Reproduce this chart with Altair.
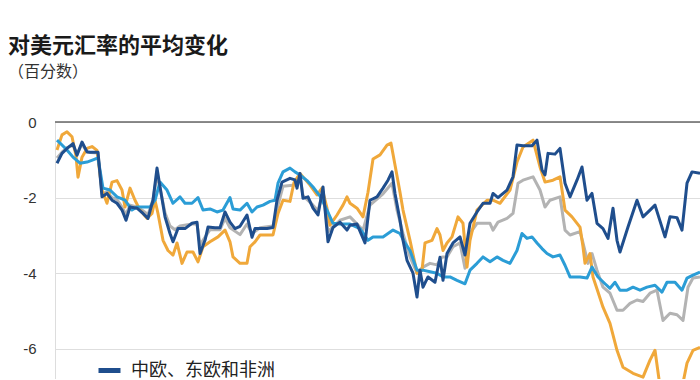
import altair as alt
import pandas as pd

title_text = "对美元汇率的平均变化"
subtitle_text = "（百分数）"
series_names = ["中欧、东欧和非洲", "拉丁美洲", "所有新兴市场", "亚洲"]
series_colors = ["#1f4e8d", "#f0a83a", "#b3b3b3", "#2b9dd6"]
y_ticks = [0, -2, -4, -6]

# day index (t) and percent change values
cee_t = [2, 7, 12, 18, 22, 27, 32, 35, 43, 47, 52, 57, 62, 67, 71, 75, 82, 88, 93, 98,
         102, 105, 110, 115, 118, 123, 130, 137, 142, 145, 150, 153, 160, 165, 170, 175,
         180, 185, 192, 197, 200, 212, 218, 222, 227, 235, 240, 242, 245, 248, 253, 258,
         263, 268, 273, 278, 285, 292, 295, 302, 310, 315, 322, 328, 333, 337, 340, 345,
         348, 352, 358, 362, 365, 368, 373, 380, 385, 388, 392, 398, 405, 410, 415, 422,
         428, 435, 438, 443, 452, 458, 462, 468, 477, 482, 487, 490, 493, 500, 505, 510,
         515, 522, 527, 532, 537, 542, 548, 553, 558, 562, 565, 573, 582, 588, 595, 600,
         610, 615, 622, 627, 632, 637, 645]
cee_v = [-1.09, -0.83, -0.70, -0.57, -0.88, -0.53, -0.79, -0.80, -0.80, -1.98, -1.89, -2.07,
         -2.15, -2.33, -2.60, -2.25, -2.28, -2.42, -2.55, -2.07, -1.22, -1.71, -2.51, -2.95,
         -3.17, -2.82, -2.82, -2.68, -2.65, -3.48, -3.13, -2.78, -2.80, -2.80, -2.38, -2.65,
         -2.82, -2.76, -2.46, -3.05, -2.82, -2.82, -2.79, -2.07, -1.59, -1.49, -1.53, -1.75,
         -1.36, -2.02, -1.98, -2.28, -2.46, -1.72, -3.17, -2.79, -2.65, -2.86, -2.73, -2.70,
         -3.20, -2.07, -1.98, -1.75, -1.54, -1.32, -1.89, -2.60, -3.13, -3.66, -4.00, -4.63,
         -3.92, -4.37, -4.10, -4.24, -3.58, -4.19, -3.48, -3.20, -3.04, -3.52, -2.68, -2.38,
         -2.15, -2.15, -1.89, -2.00, -1.80, -1.45, -0.61, -0.63, -0.63, -0.48, -1.27, -1.40,
         -0.83, -0.85, -0.70, -1.62, -1.98, -1.54, -1.19, -2.07, -1.89, -2.68, -2.82, -3.08,
         -2.28, -3.13, -3.44, -2.78, -2.07, -2.51, -2.33, -2.20, -3.04, -2.51, -2.53, -2.86,
         -1.62, -1.32, -1.36]

lat_t = [2, 7, 12, 17, 21, 23, 27, 32, 37, 42, 47, 52, 57, 62, 67, 70, 75, 80, 85, 92,
         97, 100, 103, 108, 113, 118, 122, 127, 132, 138, 143, 148, 155, 163, 170, 175,
         178, 185, 192, 195, 200, 205, 218, 223, 228, 235, 239, 245, 255, 262, 267, 272,
         275, 282, 288, 292, 295, 302, 308, 313, 318, 325, 332, 336, 340, 345, 348, 355,
         362, 367, 370, 377, 382, 385, 388, 392, 397, 403, 408, 412, 415, 422, 432, 438,
         445, 455, 462, 468, 478, 485, 490, 498, 505, 510, 517, 525, 528, 530, 535, 538,
         543, 548, 555, 562, 568, 578, 588, 595, 600, 605, 613, 625, 632, 638, 645]
lat_v = [-0.74, -0.34, -0.26, -0.39, -0.90, -1.46, -0.93, -0.70, -0.65, -0.75, -1.80, -2.15,
         -1.59, -1.55, -1.80, -2.25, -1.75, -2.07, -2.33, -2.55, -2.42, -2.07, -2.42, -3.13,
         -3.40, -3.52, -3.20, -3.74, -3.44, -3.44, -3.70, -3.30, -3.17, -3.04, -2.86, -3.17,
         -3.57, -3.74, -3.74, -3.30, -3.17, -2.99, -2.99, -2.42, -2.07, -2.10, -1.60, -1.36,
         -1.67, -1.93, -1.75, -2.28, -2.73, -2.46, -2.20, -1.98, -2.15, -2.28, -2.51, -1.86,
         -0.98, -0.87, -0.61, -0.56, -1.14, -1.86, -2.33, -3.13, -4.00, -3.92, -3.20, -3.13,
         -2.82, -2.99, -3.40, -3.20, -3.04, -2.51, -2.68, -3.84, -3.13, -2.33, -2.07, -2.07,
         -2.15, -1.80, -1.06, -0.66, -0.48, -1.19, -1.59, -1.54, -1.45, -2.33, -2.51, -2.78,
         -3.30, -3.74, -3.48, -4.10, -4.50, -4.90, -5.33, -6.04, -6.49, -6.65, -6.75, -6.30,
         -6.04, -7.00, -7.30, -7.30, -6.38, -6.04, -5.96]

em_t = [2, 7, 12, 18, 22, 27, 32, 43, 47, 52, 57, 62, 67, 71, 75, 82, 88, 93, 98, 102,
        105, 110, 115, 120, 125, 137, 142, 145, 150, 155, 165, 170, 175, 185, 192, 197,
        205, 218, 223, 228, 240, 245, 248, 258, 263, 268, 273, 285, 295, 308, 315, 328,
        337, 342, 348, 355, 362, 368, 375, 382, 387, 392, 398, 405, 410, 415, 422, 435,
        438, 443, 452, 458, 463, 468, 478, 485, 490, 495, 505, 510, 515, 525, 528, 533,
        537, 542, 548, 555, 562, 568, 575, 582, 588, 595, 602, 608, 615, 622, 628, 633,
        638, 645]
em_v = [-0.95, -0.80, -0.68, -0.62, -0.85, -0.58, -0.80, -0.82, -1.90, -1.85, -2.00, -2.05,
        -2.25, -2.45, -2.20, -2.25, -2.35, -2.45, -2.05, -1.40, -1.75, -2.40, -2.75, -2.85,
        -2.75, -2.70, -2.70, -3.25, -3.05, -2.85, -2.85, -2.55, -2.80, -2.98, -2.70, -2.95,
        -2.80, -2.75, -2.20, -1.70, -1.67, -1.45, -1.95, -2.20, -2.35, -1.85, -2.90, -2.60,
        -2.51, -2.86, -2.20, -1.90, -1.62, -2.33, -2.95, -3.57, -4.00, -3.84, -3.74, -3.78,
        -3.57, -3.57, -3.30, -3.20, -3.87, -2.95, -2.68, -2.68, -2.86, -2.65, -2.55, -2.42,
        -1.62, -1.54, -1.45, -1.80, -2.25, -2.07, -1.98, -2.86, -2.99, -2.90, -3.20, -3.74,
        -3.48, -3.92, -4.37, -4.53, -4.98, -4.98, -4.80, -4.71, -4.75, -4.53, -4.45, -5.25,
        -5.06, -5.10, -5.25, -4.37, -4.13, -4.10]

asia_t = [2, 7, 12, 18, 25, 32, 38, 43, 48, 55, 62, 70, 77, 82, 95, 100, 105, 112, 118, 125,
          130, 137, 143, 148, 155, 162, 168, 175, 178, 185, 192, 197, 202, 208, 215, 220,
          223, 228, 235, 240, 245, 252, 258, 265, 272, 278, 285, 295, 305, 313, 318, 328,
          338, 345, 350, 355, 362, 368, 375, 382, 388, 395, 402, 410, 415, 422, 428, 435,
          442, 448, 455, 462, 467, 472, 477, 482, 487, 492, 498, 505, 510, 515, 525, 532,
          537, 543, 550, 555, 560, 565, 572, 578, 585, 592, 600, 607, 612, 620, 627, 632,
          638, 645]
asia_v = [-0.48, -0.61, -0.74, -0.93, -1.09, -1.06, -1.00, -0.95, -1.75, -1.80, -1.98, -2.07,
          -2.33, -2.25, -2.25, -2.07, -1.59, -1.80, -2.15, -1.98, -2.15, -2.15, -2.00, -2.33,
          -2.30, -2.38, -2.33, -2.00, -2.30, -2.33, -2.15, -2.38, -2.25, -2.20, -2.10, -2.07,
          -1.62, -1.32, -1.22, -1.32, -1.40, -1.55, -1.72, -1.96, -2.33, -2.68, -2.70, -2.70,
          -2.82, -3.13, -3.04, -3.04, -2.86, -2.95, -3.20, -3.40, -3.92, -3.92, -3.96, -4.00,
          -4.10, -4.10, -4.19, -4.28, -3.92, -3.74, -3.57, -3.70, -3.57, -3.66, -3.74, -3.40,
          -2.95, -3.08, -3.04, -3.20, -3.35, -3.48, -3.57, -3.52, -3.79, -4.10, -4.10, -4.13,
          -3.84, -4.10, -4.28, -4.40, -4.24, -4.45, -4.45, -4.37, -4.45, -4.37, -4.32, -4.50,
          -4.24, -4.24, -4.45, -4.13, -4.05, -3.97]

FONT = "Noto Sans CJK SC"

def frame(name, t, v):
    return pd.DataFrame({"t": t, "v": v, "series": name})

x_enc = alt.X("t:Q", axis=None, scale=alt.Scale(domain=[0, 645], nice=False, zero=False))
y_enc = alt.Y("v:Q", title=None,
              scale=alt.Scale(domain=[-6.8, 0], nice=False),
              axis=alt.Axis(values=y_ticks, grid=True, gridColor="#dedede", gridWidth=1,
                            domain=False, ticks=False, labelPadding=19, labelFontSize=15,
                            labelColor="#333333", labelFont="Liberation Sans",
                            labelExpr="'' + datum.value"))
color_enc = alt.Color("series:N",
                      scale=alt.Scale(domain=series_names, range=series_colors),
                      legend=alt.Legend(title=None, orient="none", legendX=41, legendY=235,
                                        values=[series_names[0]],
                                        direction="vertical", symbolType="stroke",
                                        symbolStrokeWidth=5, symbolSize=484,
                                        labelFontSize=18, labelFont=FONT, labelColor="#222222",
                                        labelOffset=8, padding=0, rowPadding=6))

def line_layer(df):
    return alt.Chart(df).mark_line(strokeWidth=3, clip=True, strokeJoin="round").encode(
        x=x_enc, y=y_enc, color=color_enc)

zero = alt.Chart(pd.DataFrame({"v": [0]})).mark_rule(color="#666666", strokeWidth=1.6).encode(
    y=alt.Y("v:Q", scale=alt.Scale(domain=[-6.8, 0], nice=False)))

chart = alt.layer(
    zero,
    line_layer(frame(series_names[2], em_t, em_v)),
    line_layer(frame(series_names[1], lat_t, lat_v)),
    line_layer(frame(series_names[3], asia_t, asia_v)),
    line_layer(frame(series_names[0], cee_t, cee_v)),
).properties(
    width=645, height=257,
    title=alt.Title(title_text, subtitle=subtitle_text, anchor="start", frame="group",
                    dx=-47, offset=34, font=FONT, fontSize=22, fontWeight="bold",
                    color="#1a1a1a", subtitleFont=FONT, subtitleFontSize=16,
                    subtitleColor="#333333", subtitlePadding=6),
    autosize=alt.AutoSizeParams(type="none"),
    padding={"left": 55, "top": 122, "right": 0, "bottom": 0},
).configure_view(stroke=None).configure(background="white")

chart.save("out.html", embed_options={"renderer": "svg", "actions": False})
